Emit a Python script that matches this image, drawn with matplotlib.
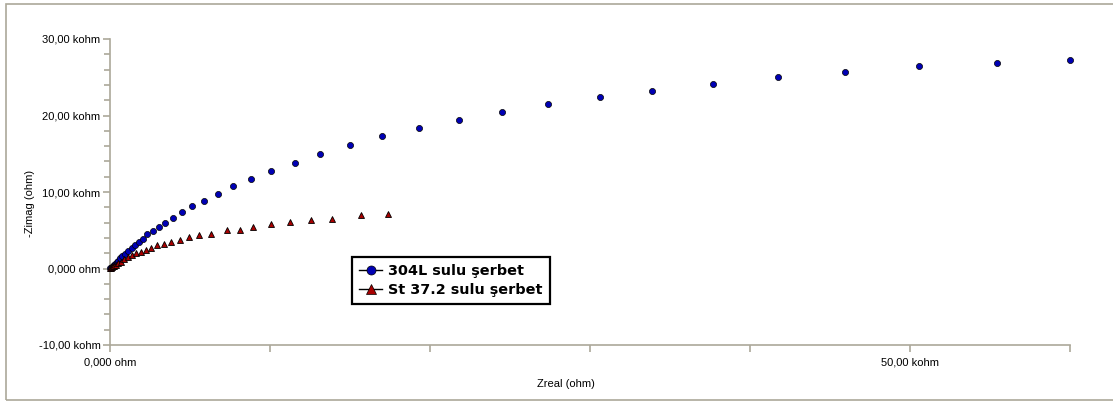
import matplotlib
matplotlib.use("Agg")
import matplotlib.pyplot as plt
from matplotlib.lines import Line2D
from matplotlib.patches import Rectangle

# Nyquist data, values in kohm
zreal_304l = [0.031, 0.0625, 0.125, 0.19, 0.25, 0.31, 0.41, 0.5, 0.625, 0.77,
              0.96, 1.14, 1.36, 1.58, 1.81, 2.06, 2.33, 2.69, 3.04, 3.46,
              3.92, 4.48, 5.13, 5.86, 6.75, 7.67, 8.79, 10.04, 11.54, 13.14,
              14.98, 17.02, 19.33, 21.81, 24.5, 27.38, 30.63, 33.89, 37.71, 41.77,
              45.94, 50.56, 55.42, 60.0]
zimag_304l = [0.065, 0.13, 0.26, 0.39, 0.52, 0.65, 0.85, 1.04, 1.31, 1.61,
              1.96, 2.26, 2.65, 3.04, 3.43, 3.92, 4.48, 4.96, 5.44, 5.97,
              6.57, 7.35, 8.13, 8.88, 9.79, 10.74, 11.75, 12.75, 13.80, 14.97,
              16.15, 17.32, 18.32, 19.45, 20.5, 21.54, 22.36, 23.2, 24.06, 24.97,
              25.72, 26.5, 26.85, 27.28]

zreal_st37 = [0.031, 0.0625, 0.125, 0.19, 0.28, 0.375, 0.5, 0.66, 0.875, 1.11,
              1.36, 1.625, 1.92, 2.23, 2.56, 2.94, 3.36, 3.83, 4.36, 4.96,
              5.58, 6.29, 7.29, 8.13, 8.92, 10.04, 11.25, 12.56, 13.86, 15.67,
              17.36]
zimag_st37 = [0.04, 0.09, 0.18, 0.27, 0.39, 0.52, 0.68, 0.87, 1.24, 1.53,
              1.79, 2.05, 2.22, 2.48, 2.70, 3.04, 3.17, 3.43, 3.75, 4.09,
              4.35, 4.53, 5.03, 5.09, 5.39, 5.84, 6.14, 6.31, 6.44, 7.01,
              7.18]

series_names = ["304L sulu şerbet", "St 37.2 sulu şerbet"]

y_ticks = [-10, 0, 10, 20, 30]
y_tick_labels = ["-10,00 kohm", "0,000 ohm", "10,00 kohm", "20,00 kohm", "30,00 kohm"]
x_ticks = [0, 10, 20, 30, 40, 50, 60]
x_tick_labels = ["0,000 ohm", "", "", "", "", "50,00 kohm", ""]

W, H = 1113, 401
fig = plt.figure(figsize=(W / 100, H / 100), dpi=100)
fig.patch.set_facecolor("white")

axis_gray = "#aca899"

ax = fig.add_axes([110 / W, 1 - 345 / H, 960 / W, 306 / H])
ax.set_xlim(0, 60)
ax.set_ylim(-10, 30)

blue = "#0000b4"
red = "#a80000"
ax.plot(zreal_304l, zimag_304l, linestyle="none", marker="o", markersize=4.4,
        markerfacecolor=blue, markeredgecolor="black", markeredgewidth=0.5,
        clip_on=False, zorder=3)
ax.plot(zreal_st37, zimag_st37, linestyle="none", marker="^", markersize=4.2,
        markerfacecolor=red, markeredgecolor="black", markeredgewidth=0.6,
        clip_on=False, zorder=3)

for side in ("top", "right"):
    ax.spines[side].set_visible(False)
for side in ("left", "bottom"):
    ax.spines[side].set_color(axis_gray)
    ax.spines[side].set_linewidth(1.2)

ax.set_yticks(y_ticks)
ax.set_yticklabels(y_tick_labels)
ax.set_yticks([v for v in range(-10, 31, 2) if v % 10 != 0], minor=True)
ax.set_xticks(x_ticks)
ax.set_xticklabels(x_tick_labels)

ax.tick_params(axis="both", which="both", direction="out", color=axis_gray,
               width=1.2, labelsize=8, labelcolor="black")
ax.tick_params(axis="y", which="major", length=5, pad=1.8)
ax.tick_params(axis="y", which="minor", length=4)
ax.tick_params(axis="x", which="major", length=5, pad=4)
for lab in ax.get_xticklabels() + ax.get_yticklabels():
    lab.set_fontfamily("Liberation Sans")

fig.text(30 / W, 1 - 203 / H, "-Zimag (ohm)", rotation=90, ha="center",
         va="center", fontsize=8, family="Liberation Sans")
fig.text(566 / W, 1 - 384 / H, "Zreal (ohm)", ha="center", va="center",
         fontsize=8, family="Liberation Sans")

handles = [
    Line2D([], [], color="black", linewidth=1, marker="o", markersize=6.5,
           markerfacecolor=blue, markeredgecolor="black", markeredgewidth=0.5),
    Line2D([], [], color="black", linewidth=1, marker="^", markersize=6.5,
           markerfacecolor=red, markeredgecolor="black", markeredgewidth=0.5),
]
leg = fig.legend(handles, series_names, loc="upper left",
                 bbox_to_anchor=(352 / W, 1 - 257 / H),
                 bbox_transform=fig.transFigure, borderaxespad=0,
                 frameon=True, fancybox=False, framealpha=1,
                 edgecolor="black", handlelength=1.6, handletextpad=0.4,
                 labelspacing=0.3, borderpad=0.5,
                 prop={"family": "DejaVu Sans", "weight": "bold", "size": 10.4})
leg.get_frame().set_linewidth(1.6)

# outer chart border
fig.patches.append(Rectangle((6 / W, 1 - 400 / H), 1.2, (396) / H,
                             transform=fig.transFigure, fill=False,
                             edgecolor=axis_gray, linewidth=1.2))

fig.savefig("out.png", dpi=100)
